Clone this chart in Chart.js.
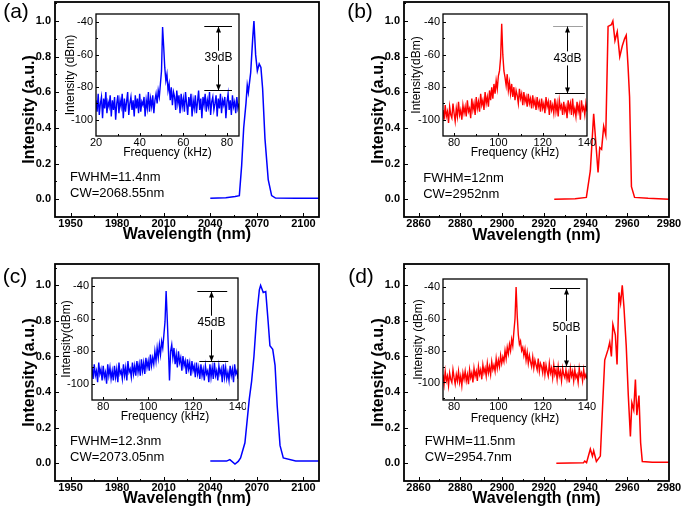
<!DOCTYPE html>
<html>
<head>
<meta charset="utf-8">
<script src="https://cdn.jsdelivr.net/npm/chart.js@4.4.1/dist/chart.umd.min.js"></script>
<style>
  body { margin: 0; background: #fff; }
  #fig { position: relative; width: 685px; height: 513px; overflow: hidden; background: #fff; }
  #fig canvas { position: absolute; }
</style>
</head>
<body>
<div id="fig">
  <canvas id="mainA" style="left:0px;top:0px" width="342" height="256"></canvas>
  <canvas id="mainB" style="left:342px;top:0px" width="343" height="256"></canvas>
  <canvas id="mainC" style="left:0px;top:256px" width="342" height="257"></canvas>
  <canvas id="mainD" style="left:342px;top:256px" width="343" height="257"></canvas>
  <canvas id="insetA" style="left:58px;top:8px" width="188" height="156"></canvas>
  <canvas id="insetB" style="left:402px;top:8px" width="198" height="156"></canvas>
  <canvas id="insetC" style="left:54px;top:270px" width="192" height="157"></canvas>
  <canvas id="insetD" style="left:402px;top:270px" width="198" height="160"></canvas>
</div>
<script>
const FONT = "'Liberation Sans', Arial, Helvetica, sans-serif";
const BLUE = '#0000ff';
const RED = '#ff0000';

// optical spectra (wavelength nm, normalised intensity)
const wlA = [2040, 2050, 2056, 2058.7, 2060.2, 2061.5, 2063, 2063.8, 2064.5, 2066, 2067.3, 2068.1, 2069.2, 2070.3, 2071.5, 2072.6, 2073.7, 2075.2, 2077.3, 2079.5, 2082, 2095, 2110];
const intA = [0.005, 0.008, 0.015, 0.02, 0.19, 0.4, 0.54, 0.64, 0.6, 0.71, 0.9, 1.0, 0.81, 0.72, 0.76, 0.74, 0.62, 0.34, 0.11, 0.02, 0.006, 0.005, 0.005];

const wlB = [2925, 2935, 2940.4, 2942.3, 2943.9, 2945.2, 2946, 2946.8, 2947.7, 2948.7, 2949.7, 2950.8, 2952.4, 2953.1, 2954.1, 2955.2, 2956.4, 2957.6, 2958.7, 2959.5, 2960.4, 2961.1, 2962, 2963.5, 2970, 2980];
const intB = [0.0, 0.002, 0.01, 0.16, 0.48, 0.275, 0.15, 0.29, 0.28, 0.41, 0.36, 0.97, 0.98, 1.0, 0.89, 0.94, 0.80, 0.86, 0.90, 0.92, 0.74, 0.575, 0.07, 0.01, 0.005, 0.0];

const wlC = [2040, 2050.5, 2052.6, 2055.9, 2058, 2059.5, 2062.3, 2065.1, 2066.6, 2068.1, 2069.9, 2071.6, 2072.4, 2074.1, 2075.7, 2077.3, 2078.4, 2080.2, 2081.7, 2083.1, 2084.9, 2087, 2095, 2110];
const intC = [0.012, 0.012, 0.02, -0.005, 0.01, 0.03, 0.115, 0.36, 0.46, 0.6, 0.83, 0.975, 1.0, 0.96, 0.965, 0.79, 0.66, 0.64, 0.55, 0.32, 0.1, 0.03, 0.012, 0.012];

const wlD = [2926, 2939, 2939.6, 2940.5, 2942.3, 2943.3, 2943.9, 2945.2, 2947.1, 2948.4, 2949.2, 2950.8, 2951.6, 2952.4, 2953.1, 2954.3, 2955.1, 2956, 2956.8, 2957.6, 2958.4, 2959.5, 2960.5, 2961.5, 2962.2, 2963.1, 2963.9, 2964.6, 2965.6, 2966.4, 2967.2, 2972, 2980];
const intD = [0.0, 0.002, 0.012, 0.003, 0.08, 0.04, 0.07, 0.01, 0.04, 0.38, 0.58, 0.64, 0.68, 0.6, 0.78, 0.72, 0.555, 0.96, 0.9, 1.0, 0.88, 0.66, 0.38, 0.15, 0.34, 0.30, 0.47, 0.27, 0.38, 0.115, 0.01, 0.005, 0.005];

// RF spectra (dBm), analyser sampled every 0.5 kHz
const rfStep = 0.5;
const rfStartA = 20;
const rfA = [
  -88,-95,-84,-97,-90,-86,-99,-87,-93,-83,-96,-89,-92,-85,-98,-88,-94,-86,-100,-90,
  -85,-96,-88,-92,-84,-99,-87,-95,-89,-83,-97,-90,-86,-94,-88,-98,-85,-93,-87,-96,
  -84,-95,-89,-91,-86,-98,-88,-93,-83,-95,-87,-92,-85,-96,-88,
  -84,-90,-82,-86,-78,-70,
  -43,
  -55,-68,-76,-72,-82,
  -78,-88,-80,-91,-83,-86,-94,-82,-90,-85,-96,-84,-92,-87,
  -95,-83,-90,-97,-86,-92,-84,-98,-88,-93,-85,-96,-89,-82,-94,-87,-99,-86,-91,-84,
  -95,-88,-92,-83,-97,-89,-86,-94,-90,-85,-98,-87,-93,-84,-96,-88,-91,-86,-99,-89,
  -84,-94,-88,-97,-85,-92,-89,-96,-86,-93,-90
];
const rfStartB = 75;
const rfB = [
  -94,-100,-91,-98,-95,-102,-92,-97,-99,-90,-96,-101,-93,-98,-89,-97,-94,-100,-91,-96,
  -92,-98,-88,-95,-93,-99,-87,-94,-90,-97,-86,-93,-89,-95,-84,-91,-88,-94,-83,-90,
  -86,-92,-82,-88,-80,-87,-78,-84,-76,-81,-73,-70,-62,
  -41,
  -60,-70,-74,-79,-72,-82,-77,
  -84,-78,-86,-80,-88,-82,-85,-90,-81,-87,-84,-91,-83,-89,-86,-92,-84,-90,-87,-93,
  -85,-91,-88,-94,-86,-92,-89,-95,-87,-93,-90,-96,-86,-92,-89,-97,-88,-94,-91,-96,
  -87,-95,-90,-98,-88,-93,-91,-97,-89,-95,-92,-99,-88,-94,-90,-97,-87,-96,-93,-98,
  -89,-95,-91,-100,-88,-94,-92,-97,-90,-95
];
const rfStartC = 75;
const rfC = [
  -90,-97,-88,-95,-92,-99,-87,-94,-91,-98,-89,-96,-93,-100,-88,-95,-90,-97,-92,-98,
  -89,-96,-91,-99,-87,-94,-92,-97,-88,-95,-90,-98,-86,-93,-91,-96,-87,-94,-89,-95,
  -86,-93,-88,-95,-85,-92,-87,-94,-84,-90,-86,-92,-82,-89,-84,-88,-80,-86,-78,-84,
  -76,-82,-74,-78,-70,-62,
  -43,
  -60,-78,-98,-80,-76,-84,
  -78,-88,-82,-90,-80,-87,-84,-92,-83,-89,-86,-94,-85,-91,-87,-95,-86,-92,-89,-96,
  -87,-94,-90,-97,-88,-95,-91,-98,-89,-94,-92,-99,-88,-96,-90,-97,-87,-95,-92,-98,
  -89,-94,-91,-99,-88,-96,-90,-97,-93,-98,-89,-95,-91,-99,-88,-94,-92,-97
];
const rfStartD = 75;
const rfD = [
  -95,-101,-93,-99,-96,-102,-94,-98,-100,-92,-97,-101,-95,-99,-93,-100,-96,-102,-94,-98,
  -93,-99,-95,-101,-92,-97,-94,-100,-91,-96,-93,-99,-90,-95,-92,-98,-89,-94,-91,-96,
  -88,-94,-90,-95,-87,-92,-89,-93,-85,-91,-86,-90,-83,-88,-84,-87,-80,-85,-78,-82,
  -76,-80,-73,-77,-68,-60,
  -40,
  -58,-70,-76,-74,-80,-78,
  -83,-79,-86,-81,-88,-83,-87,-90,-84,-91,-86,-89,-92,-85,-93,-88,-90,-94,-87,-95,
  -89,-93,-96,-88,-94,-91,-97,-89,-95,-92,-98,-90,-96,-93,-99,-91,-95,-97,-92,-98,
  -94,-100,-91,-96,-93,-99,-92,-97,-95,-100,-91,-96,-94,-99,-92,-97,-95,-98
];

// tick labels
const mainYTicks = [0, 0.2, 0.4, 0.6, 0.8, 1.0];
const xTicks2um = [1950, 1980, 2010, 2040, 2070, 2100];
const xTicks3um = [2860, 2880, 2900, 2920, 2940, 2960, 2980];
const insetYTicks = [-40, -60, -80, -100];
const insetXTicksA = [20, 40, 60, 80];
const insetXTicks = [80, 100, 120, 140];

// frame box + inward major/minor ticks, like the original plotting software
function tickVals(scale, majors, step) {
  const out = [];
  const first = Math.min(...majors);
  const start = first - step * Math.floor((first - scale.min) / step + 1e-9);
  for (let k = 0; ; k++) {
    const v = start + k * step;
    if (v > scale.max + 1e-9) break;
    out.push([v, majors.some(m => Math.abs(m - v) < step / 10)]);
  }
  return out;
}

const frameTicks = {
  id: 'frameTicks',
  afterDraw(chart, args, o) {
    if (!o.lw) return;
    const { ctx, chartArea: a, scales: { x, y } } = chart;
    ctx.save();
    ctx.strokeStyle = '#000';
    ctx.lineWidth = 1;
    ctx.beginPath();
    tickVals(x, o.xMajor, o.xStep).forEach(([v, major]) => {
      const px = Math.round(x.getPixelForValue(v)) + 0.5;
      if (px < a.left + 1 || px > a.right - 1) return;
      ctx.moveTo(px, a.bottom);
      ctx.lineTo(px, a.bottom - (major ? o.major : o.minor));
    });
    tickVals(y, o.yMajor, o.yStep).forEach(([v, major]) => {
      const py = Math.round(y.getPixelForValue(v)) + 0.5;
      if (py < a.top + 1 || py > a.bottom - 1) return;
      ctx.moveTo(a.left, py);
      ctx.lineTo(a.left + (major ? o.major : o.minor), py);
    });
    ctx.stroke();
    ctx.lineWidth = o.lw;
    ctx.strokeRect(a.left, a.top, a.right - a.left, a.bottom - a.top);
    ctx.restore();
  }
};

// the "xxdB" double arrow in each inset
const dbMark = {
  id: 'dbMark',
  afterDatasetsDraw(chart, args, o) {
    if (!o.text) return;
    const { ctx, scales: { x, y } } = chart;
    const yt = Math.round(y.getPixelForValue(o.top)) + 0.5;
    const yb = Math.round(y.getPixelForValue(o.bottom)) + 0.5;
    const xa = Math.round(x.getPixelForValue(o.arrowAt)) + 0.5;
    ctx.save();
    ctx.lineWidth = 1;
    ctx.strokeStyle = o.topColor;
    ctx.beginPath();
    ctx.moveTo(x.getPixelForValue(o.topSpan[0]), yt);
    ctx.lineTo(x.getPixelForValue(o.topSpan[1]), yt);
    ctx.stroke();
    ctx.strokeStyle = '#000';
    ctx.beginPath();
    ctx.moveTo(x.getPixelForValue(o.bottomSpan[0]), yb);
    ctx.lineTo(x.getPixelForValue(o.bottomSpan[1]), yb);
    ctx.moveTo(xa, yt);
    ctx.lineTo(xa, yb);
    ctx.stroke();
    ctx.fillStyle = '#000';
    ctx.beginPath();
    ctx.moveTo(xa, yt); ctx.lineTo(xa - 2.5, yt + 6); ctx.lineTo(xa + 2.5, yt + 6); ctx.closePath();
    ctx.moveTo(xa, yb); ctx.lineTo(xa - 2.5, yb - 6); ctx.lineTo(xa + 2.5, yb - 6); ctx.closePath();
    ctx.fill();
    ctx.font = '12px ' + FONT;
    const ty = y.getPixelForValue(o.textAt);
    const tw = ctx.measureText(o.text).width;
    ctx.fillStyle = '#fff';
    ctx.fillRect(xa - tw / 2 - 1, ty - 7, tw + 2, 14);
    ctx.fillStyle = '#000';
    ctx.textAlign = 'center';
    ctx.textBaseline = 'middle';
    ctx.fillText(o.text, xa, ty);
    ctx.restore();
  }
};

// FWHM / CW notes and the panel letter
const notes = {
  id: 'notes',
  afterDraw(chart, args, o) {
    if (!o.lines) return;
    const { ctx, scales: { x, y } } = chart;
    ctx.save();
    ctx.fillStyle = '#000';
    ctx.textAlign = 'left';
    ctx.textBaseline = 'middle';
    ctx.font = '13px ' + FONT;
    o.lines.forEach((t, i) => {
      ctx.fillText(t, x.getPixelForValue(o.at[i][0]), y.getPixelForValue(o.at[i][1]));
    });
    ctx.font = '21px ' + FONT;
    ctx.textAlign = 'center';
    ctx.fillText(o.label, o.labelPos[0], o.labelPos[1]);
    ctx.restore();
  }
};

Chart.register(frameTicks, dbMark, notes);

function fitAxis(s, size, horiz) {
  if (horiz) s.height = size; else s.width = size;
  s.paddingTop = 0; s.paddingBottom = 0; s.paddingLeft = 0; s.paddingRight = 0;
}

function draw(id, p) {
  const cv = document.getElementById(id);
  const W = cv.width, H = cv.height, a = p.area;
  return new Chart(cv, {
    type: 'line',
    data: {
      datasets: [{
        data: p.points,
        borderColor: p.color,
        borderWidth: p.lw,
        pointRadius: 0,
        tension: 0,
        fill: false
      }]
    },
    options: {
      responsive: false,
      animation: false,
      events: [],
      layout: { padding: { left: p.padL, top: a[1], right: W - a[2], bottom: p.padB } },
      plugins: {
        legend: { display: false },
        tooltip: { enabled: false },
        frameTicks: p.frame,
        dbMark: p.mark || {},
        notes: p.notes || {}
      },
      scales: {
        x: {
          type: 'linear', min: p.x[0], max: p.x[1],
          afterBuildTicks: s => { s.ticks = p.xTicks.map(v => ({ value: v })); },
          afterFit: s => fitAxis(s, H - p.padB - a[3], true),
          grid: { display: false, drawTicks: false },
          border: { display: false },
          ticks: { autoSkip: false, maxRotation: 0, padding: p.xPad, color: '#000', font: p.tickFont,
                   callback: v => String(v) },
          title: { display: true, text: p.xTitle, color: '#000', font: p.titleFont, padding: 0 }
        },
        y: {
          type: 'linear', min: p.y[0], max: p.y[1],
          afterBuildTicks: s => { s.ticks = p.yTicks.map(v => ({ value: v })); },
          afterFit: s => fitAxis(s, a[0] - p.padL, false),
          grid: { display: false, drawTicks: false },
          border: { display: false },
          ticks: { autoSkip: false, padding: p.yPad, color: '#000', font: p.tickFont,
                   callback: p.yFmt },
          title: { display: true, text: p.yTitle, color: '#000', font: p.titleFont, padding: 0 }
        }
      }
    }
  });
}

const xy = (xs, ys) => xs.map((v, i) => ({ x: v, y: ys[i] }));
const rf = (start, ys) => ys.map((v, i) => ({ x: start + i * rfStep, y: v }));

const mainStyle = {
  lw: 1.5, xPad: 0, yPad: 4,
  tickFont: { family: FONT, size: 11, weight: 'bold' },
  titleFont: { family: FONT, size: 16, weight: 'bold' },
  xTitle: 'Wavelength (nm)', yTitle: 'Intensity (a.u.)',
  yTicks: mainYTicks, yFmt: v => v.toFixed(1)
};
const insetStyle = {
  lw: 1.4, xPad: 0, yPad: 3,
  tickFont: { family: FONT, size: 11 },
  titleFont: { family: FONT, size: 12 },
  xTitle: 'Frequency (kHz)',
  yTicks: insetYTicks, yFmt: v => String(v)
};

draw('mainA', Object.assign({}, mainStyle, {
  points: xy(wlA, intA), color: BLUE,
  area: [55, 2, 319, 217], padL: 20, padB: 12,
  x: [1940, 2110], y: [-0.1, 1.107], xTicks: xTicks2um,
  frame: { lw: 1.8, major: 4, minor: 2, xMajor: xTicks2um, xStep: 15, yMajor: mainYTicks, yStep: 0.1 },
  notes: { lines: ['FWHM=11.4nm', 'CW=2068.55nm'], at: [[1949.7, 0.124], [1949.7, 0.034]], label: '(a)', labelPos: [16, 12] }
}));
draw('mainB', Object.assign({}, mainStyle, {
  points: xy(wlB, intB), color: RED,
  area: [62, 2, 327, 217], padL: 27, padB: 11,
  x: [2853, 2980], y: [-0.1, 1.107], xTicks: xTicks3um,
  frame: { lw: 1.8, major: 4, minor: 2, xMajor: xTicks3um, xStep: 10, yMajor: mainYTicks, yStep: 0.1 },
  notes: { lines: ['FWHM=12nm', 'CW=2952nm'], at: [[2862.2, 0.116], [2862.2, 0.026]], label: '(b)', labelPos: [18, 12] }
}));
draw('mainC', Object.assign({}, mainStyle, {
  points: xy(wlC, intC), color: BLUE,
  area: [55, 8, 319, 225], padL: 20, padB: 5,
  x: [1940, 2110], y: [-0.1, 1.12], xTicks: xTicks2um,
  frame: { lw: 1.8, major: 4, minor: 2, xMajor: xTicks2um, xStep: 15, yMajor: mainYTicks, yStep: 0.1 },
  notes: { lines: ['FWHM=12.3nm', 'CW=2073.05nm'], at: [[1949.7, 0.124], [1949.7, 0.03]], label: '(c)', labelPos: [15, 21] }
}));
draw('mainD', Object.assign({}, mainStyle, {
  points: xy(wlD, intD), color: RED,
  area: [62, 8, 327, 225], padL: 27, padB: 5,
  x: [2853, 2980], y: [-0.1, 1.12], xTicks: xTicks3um,
  frame: { lw: 1.8, major: 4, minor: 2, xMajor: xTicks3um, xStep: 10, yMajor: mainYTicks, yStep: 0.1 },
  notes: { lines: ['FWHM=11.5nm', 'CW=2954.7nm'], at: [[2863, 0.125], [2863, 0.03]], label: '(d)', labelPos: [19, 21] }
}));

draw('insetA', Object.assign({}, insetStyle, {
  points: rf(rfStartA, rfA), color: BLUE, yTitle: 'Intensity (dBm)',
  area: [38, 6, 181, 128], padL: 5.3, padB: 3.8,
  x: [20, 85.5], y: [-110, -35], xTicks: insetXTicksA,
  frame: { lw: 1.3, major: 3, minor: 2, xMajor: insetXTicksA, xStep: 10, yMajor: insetYTicks, yStep: 10 },
  mark: { text: '39dB', top: -42.6, bottom: -81.9, topSpan: [69.6, 82.3], bottomSpan: [69.6, 82.3], arrowAt: 75.9, textAt: -61.9, topColor: '#000' }
}));
draw('insetB', Object.assign({}, insetStyle, {
  points: rf(rfStartB, rfB), color: RED, yTitle: 'Intensity(dBm)',
  area: [41, 6, 185, 128], padL: 7.8, padB: 3.8,
  x: [75, 140], y: [-110, -35], xTicks: insetXTicks,
  frame: { lw: 1.3, major: 3, minor: 2, xMajor: insetXTicks, xStep: 10, yMajor: insetYTicks, yStep: 10 },
  mark: { text: '43dB', top: -42.3, bottom: -83.3, topSpan: [124.7, 138.2], bottomSpan: [125.6, 139], arrowAt: 131.1, textAt: -62.3, topColor: '#a0a0a0' }
}));
draw('insetC', Object.assign({}, insetStyle, {
  points: rf(rfStartC, rfC), color: BLUE, yTitle: 'Intensity(dBm)',
  area: [38, 8, 184, 130], padL: 5.5, padB: 2.8,
  x: [75, 140], y: [-110, -35], xTicks: insetXTicks,
  frame: { lw: 1.3, major: 3, minor: 2, xMajor: insetXTicks, xStep: 10, yMajor: insetYTicks, yStep: 10 },
  mark: { text: '45dB', top: -43.1, bottom: -85.8, topSpan: [121.9, 135.2], bottomSpan: [122.8, 135.7], arrowAt: 127.8, textAt: -62.5, topColor: '#000' }
}));
draw('insetD', Object.assign({}, insetStyle, {
  points: rf(rfStartD, rfD), color: RED, yTitle: 'Intensity (dBm)',
  area: [41, 9, 185, 130], padL: 9.5, padB: 3.8,
  x: [75, 140], y: [-111, -35], xTicks: insetXTicks,
  frame: { lw: 1.3, major: 3, minor: 2, xMajor: insetXTicks, xStep: 10, yMajor: insetYTicks, yStep: 10 },
  mark: { text: '50dB', top: -40.6, bottom: -89.5, topSpan: [123.3, 136.9], bottomSpan: [124.8, 139.6], arrowAt: 130.5, textAt: -65.8, topColor: '#000' }
}));
</script>
</body>
</html>
